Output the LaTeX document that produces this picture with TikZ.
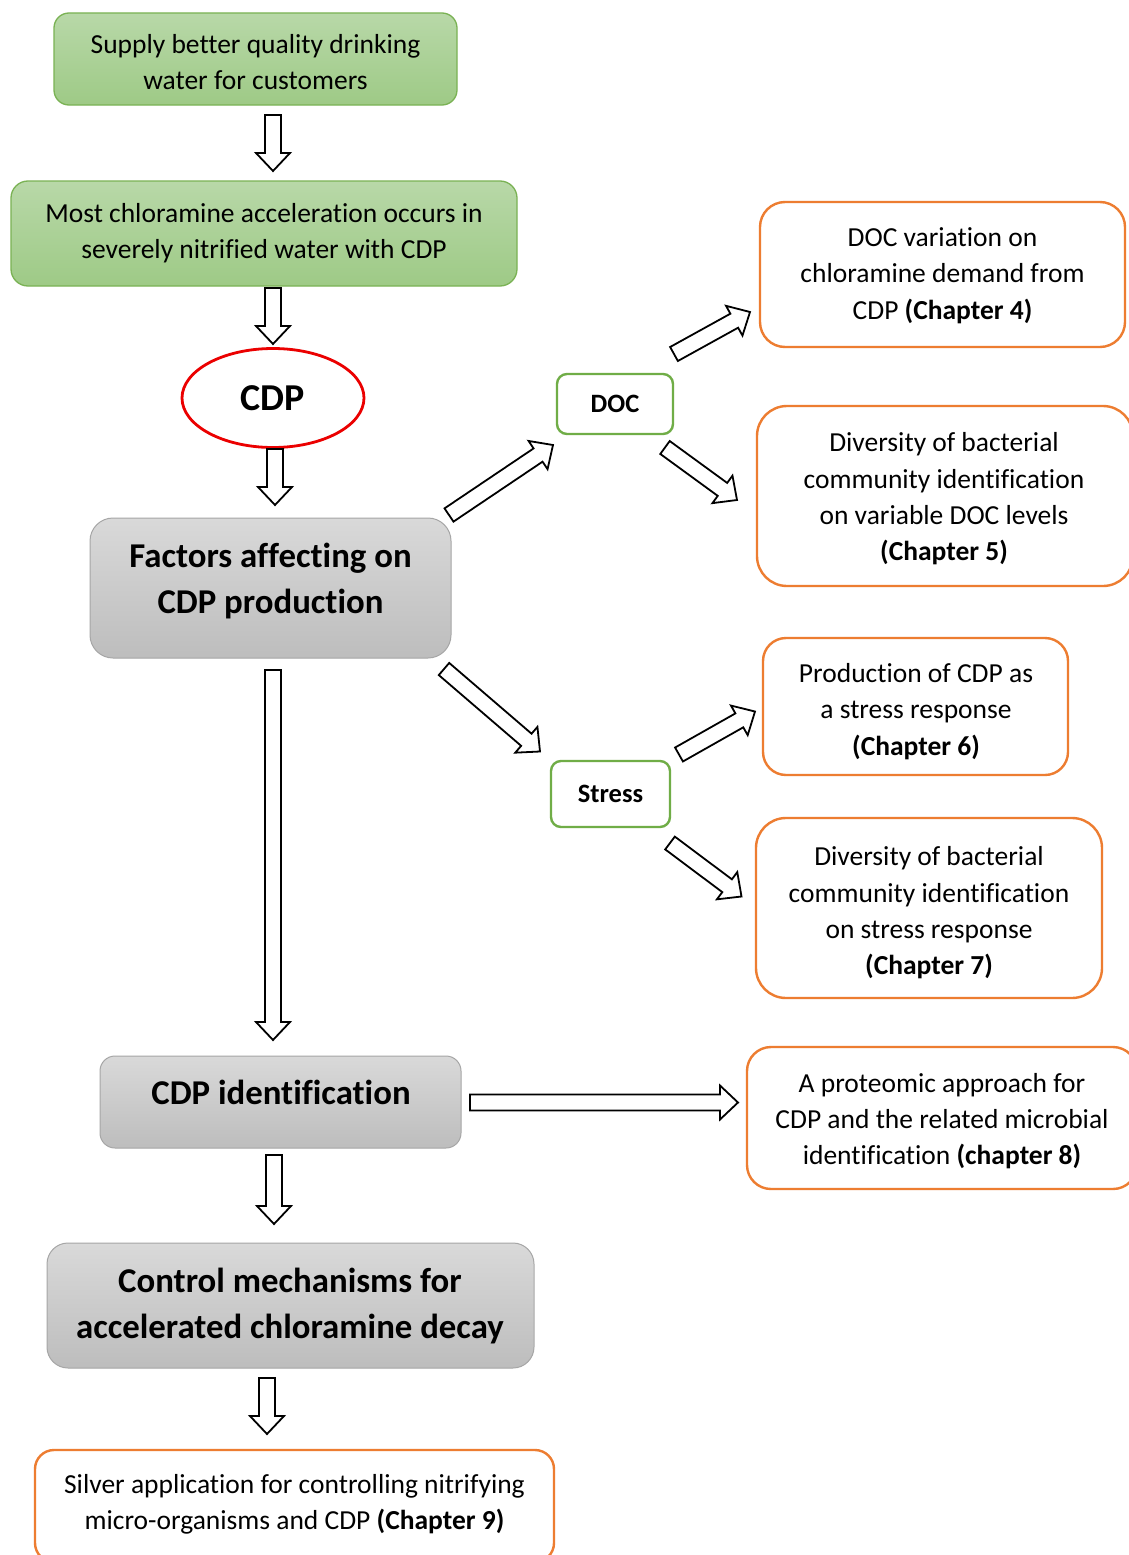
\documentclass[tikz,border=0pt]{standalone}
\usepackage{fontspec}
\setmainfont[Ligatures=NoCommon]{Carlito}
\usetikzlibrary{calc,shapes.geometric}
\definecolor{gborder}{RGB}{122,178,84}
\definecolor{gtop}{RGB}{184,216,168}
\definecolor{gbot}{RGB}{158,202,134}
\definecolor{greytop}{RGB}{217,217,217}
\definecolor{greybot}{RGB}{189,189,189}
\definecolor{greyborder}{RGB}{166,166,166}
\definecolor{orng}{RGB}{237,125,49}
\definecolor{dgreen}{RGB}{112,173,71}
\definecolor{cdpred}{RGB}{235,0,0}
\newcommand\blockarrow[2]{%
  \draw[barrow] ($(#1)!8pt!90:(#2)$)
    -- ($(#2)!18pt!(#1)!8pt!90:(#2)$)
    -- ($(#2)!18pt!(#1)!17pt!90:(#2)$)
    -- (#2)
    -- ($(#2)!18pt!(#1)!17pt!-90:(#2)$)
    -- ($(#2)!18pt!(#1)!8pt!-90:(#2)$)
    -- ($(#1)!8pt!-90:(#2)$) -- cycle;}
\begin{document}
\begin{tikzpicture}[x=1pt,y=-1pt,
  sz/.style n args={2}{minimum width=#1pt, minimum height=#2pt},
  greenbox/.style={draw=gborder, line width=1.3pt, top color=gtop, bottom color=gbot, inner sep=0pt},
  greybox/.style={draw=greyborder, line width=1pt, top color=greytop, bottom color=greybot, inner sep=0pt},
  orangebox/.style={draw=orng, line width=2.4pt, fill=white, inner sep=0pt},
  catbox/.style={draw=dgreen, line width=2.4pt, fill=white, inner sep=0pt, rounded corners=10pt, font=\fontsize{26.5}{30}\selectfont\bfseries},
  txt/.style={align=center, inner sep=0pt, font=\fontsize{27.5}{36.4}\selectfont},
  bigtxt/.style={align=center, inner sep=0pt, font=\fontsize{34.8}{46.5}\selectfont\bfseries},
  barrow/.style={draw=black, fill=white, line width=1.8pt, line join=miter}]
\clip (0,0) rectangle (1129,1555);
\fill[white] (0,0) rectangle (1129,1555);

% left column
\node[greenbox, sz={403}{92}, rounded corners=15pt] (g1) at (255.5,59) {};
\node[txt] (g1t) at (255.5,62) {Supply better quality drinking\\water for customers};
\node[greenbox, sz={506}{105}, rounded corners=17pt] (g2) at (264,233.5) {};
\node[txt] (g2t) at (264,233) {Most chloramine acceleration occurs in\\severely nitrified water with CDP};
\node[ellipse, draw=cdpred, line width=2.8pt, fill=white, sz={182}{99}, inner sep=0pt,
  font=\fontsize{38}{40}\selectfont\bfseries] (cdp) at (273,398) {CDP};
\node[greybox, sz={361}{140}, rounded corners=23pt] (fac) at (270.5,588) {};
\node[bigtxt] (fact) at (270.5,581) {Factors affecting on\\CDP production};
\node[greybox, sz={361}{92}, rounded corners=15pt] (idn) at (280.5,1102) {};
\node[bigtxt] (idnt) at (281,1092) {CDP identification};
\node[greybox, sz={487}{125}, rounded corners=21pt] (ctl) at (290.5,1305.5) {};
\node[bigtxt] (ctlt) at (290,1306) {Control mechanisms for\\accelerated chloramine decay};
\node[orangebox, sz={519}{112}, rounded corners=19pt] (slv) at (294.5,1506) {};
\node[txt] (slvt) at (294.5,1504)
  {Silver application for controlling nitrifying\\micro-organisms and CDP {\bfseries (Chapter 9)}};

% categories
\node[catbox, sz={116}{60}] (doc) at (615,404) {DOC};
\node[catbox, sz={119}{66}] (str) at (610.5,794) {Stress};

% right column
\node[orangebox, sz={365}{145}, rounded corners=25pt] (o1) at (942.5,274.5) {};
\node[txt] (o1t) at (942.5,275.5)
  {DOC variation on\\chloramine demand from\\CDP {\bfseries (Chapter 4)}};
\node[orangebox, sz={376}{180}, rounded corners=30pt] (o2) at (945,496) {};
\node[txt] (o2t) at (944,499)
  {Diversity of bacterial\\community identification\\on variable DOC levels\\{\bfseries (Chapter 5)}};
\node[orangebox, sz={305}{137}, rounded corners=23pt] (o3) at (915.5,706.5) {};
\node[txt] (o3t) at (916,711.5)
  {Production of CDP as\\a stress response\\{\bfseries (Chapter 6)}};
\node[orangebox, sz={346}{180}, rounded corners=30pt] (o4) at (929,908) {};
\node[txt] (o4t) at (929,913)
  {Diversity of bacterial\\community identification\\on stress response\\{\bfseries (Chapter 7)}};
\node[orangebox, sz={390}{142}, rounded corners=24pt] (o5) at (942,1118) {};
\node[txt] (o5t) at (942,1121)
  {A proteomic approach for\\CDP and the related microbial\\identification {\bfseries (chapter 8)}};

% arrow end points
\coordinate (a1s) at (273,115);   \coordinate (a1e) at (273,171);
\coordinate (a2s) at (273,288);   \coordinate (a2e) at (273,344);
\coordinate (a3s) at (275,449);   \coordinate (a3e) at (275,505);
\coordinate (a4s) at (273,670);   \coordinate (a4e) at (273,1040);
\coordinate (a5s) at (274,1155);  \coordinate (a5e) at (274,1224);
\coordinate (a6s) at (267,1378);  \coordinate (a6e) at (267,1434);
\coordinate (a7s) at (470,1102.5);\coordinate (a7e) at (738,1102.5);
\coordinate (d1s) at (449,515);   \coordinate (d1e) at (553,445);
\coordinate (d2s) at (674,354);   \coordinate (d2e) at (750,312);
\coordinate (d3s) at (665,447.5); \coordinate (d3e) at (737,500);
\coordinate (d4s) at (444,669);   \coordinate (d4e) at (540,751.5);
\coordinate (d5s) at (679,754.5); \coordinate (d5e) at (755,711.5);
\coordinate (d6s) at (670,843);   \coordinate (d6e) at (741.5,896.5);

\blockarrow{a1s}{a1e}
\blockarrow{a2s}{a2e}
\blockarrow{a3s}{a3e}
\blockarrow{a4s}{a4e}
\blockarrow{a5s}{a5e}
\blockarrow{a6s}{a6e}
\blockarrow{a7s}{a7e}
\blockarrow{d1s}{d1e}
\blockarrow{d2s}{d2e}
\blockarrow{d3s}{d3e}
\blockarrow{d4s}{d4e}
\blockarrow{d5s}{d5e}
\blockarrow{d6s}{d6e}
\end{tikzpicture}
\end{document}
